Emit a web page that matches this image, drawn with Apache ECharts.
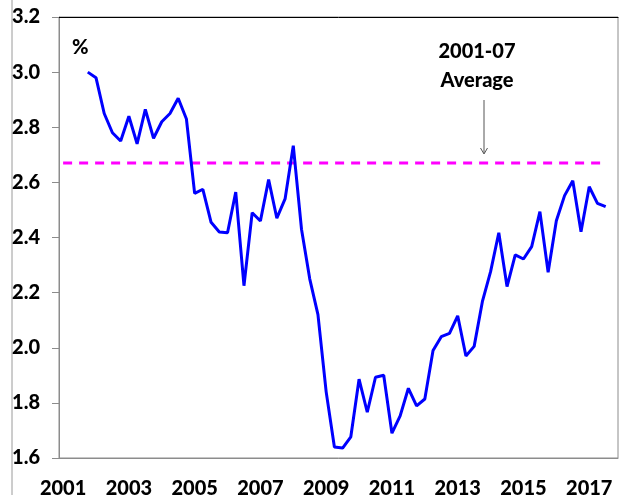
<!DOCTYPE html>
<html>
<head>
<meta charset="utf-8">
<script src="https://cdn.jsdelivr.net/npm/echarts@6/dist/echarts.min.js"></script>
<style>
  html, body { margin: 0; padding: 0; background: #fff; }
  #chart { width: 629px; height: 495px; }
</style>
</head>
<body>
<div id="chart"></div>
<script>
// quarterly axis 2001Q1 .. 2017Q4, labels every second year
const years = [2001, 2002, 2003, 2004, 2005, 2006, 2007, 2008, 2009,
  2010, 2011, 2012, 2013, 2014, 2015, 2016, 2017];
const quarters = ["Q1", "Q2", "Q3", "Q4"];

// series runs 2001Q4 .. 2017Q3
const rateStart = "2001 Q4";
const rateValues = [
  3.00, 2.98, 2.85, 2.78, 2.75, 2.84, 2.74, 2.865, 2.76, 2.82, 2.85, 2.905, 2.83,
  2.56, 2.575, 2.455, 2.42, 2.417, 2.565, 2.225, 2.49, 2.46, 2.61, 2.47, 2.54, 2.733,
  2.43, 2.25, 2.12, 1.84, 1.64, 1.636, 1.677, 1.886, 1.766, 1.893, 1.90, 1.69, 1.753,
  1.853, 1.789, 1.814, 1.99, 2.04, 2.052, 2.116, 1.97, 2.005, 2.167, 2.276, 2.417,
  2.222, 2.337, 2.322, 2.367, 2.494, 2.274, 2.461, 2.552, 2.606, 2.421, 2.584, 2.524, 2.512,
];
const average = 2.67;
const yTicks = { min: 1.6, max: 3.2, step: 0.2 };

const categories = years.flatMap((y) => quarters.map((q) => `${y} ${q}`));
const startIdx = categories.indexOf(rateStart);
const lastIdx = startIdx + rateValues.length - 1;
const rateData = categories.map((c, i) =>
  i >= startIdx && i <= lastIdx ? rateValues[i - startIdx] : null);
const avgData = categories.map((c, i) => (i <= lastIdx ? average : null));

const font = "Lato";
const chart = echarts.init(document.getElementById("chart"));

chart.setOption({
  animation: false,
  backgroundColor: "#fff",
  grid: {
    left: 59, right: 11, top: 17, bottom: 37,
    outerBoundsMode: "none",
    containLabel: false,
    show: true, borderColor: "#8c8c8c", borderWidth: 1,
  },
  xAxis: [
    {
      type: "category",
      data: categories,
      boundaryGap: true,
      axisLine: { lineStyle: { color: "#8c8c8c", width: 1 } },
      axisTick: { show: false },
      axisLabel: {
        interval: 7,
        margin: 21,
        formatter: (v) => v.slice(0, 4),
        color: "#000",
        fontFamily: font,
        fontWeight: 900,
        fontSize: 20,
      },
      splitLine: { show: false },
    },
    {
      type: "category",
      data: categories,
      position: "top",
      axisLine: { lineStyle: { color: "#000", width: 1 } },
      axisTick: { show: false },
      axisLabel: { show: false },
    },
  ],
  yAxis: {
    type: "value",
    min: yTicks.min,
    max: yTicks.max,
    interval: yTicks.step,
    axisLine: { show: true, lineStyle: { color: "#8c8c8c" } },
    axisTick: { show: true, length: 7, lineStyle: { color: "#8c8c8c" } },
    splitLine: { show: false },
    axisLabel: {
      margin: 19,
      formatter: (v) => v.toFixed(1),
      color: "#000",
      fontFamily: font,
      fontWeight: 900,
      fontSize: 20,
    },
  },
  series: [
    {
      name: "Average",
      type: "line",
      data: avgData,
      showSymbol: false,
      lineStyle: { color: "#ff00ff", width: 3, type: [9, 7] },
      z: 1,
    },
    {
      name: "Rate",
      type: "line",
      data: rateData,
      showSymbol: false,
      connectNulls: false,
      lineStyle: { color: "#0000ff", width: 3 },
      z: 2,
    },
  ],
  graphic: [
    { type: "line", shape: { x1: 12, y1: 0, x2: 12, y2: 495 }, style: { stroke: "#9a9a9a", lineWidth: 1 } },
    { type: "text", left: 72, top: 38, style: { text: "%", fill: "#000", font: `900 20px ${font}` } },
    {
      type: "text", x: 477, y: 37,
      style: { text: "2001-07\nAverage", fill: "#000", font: `900 20px ${font}`,
        align: "center", lineHeight: 29 },
    },
    { type: "line", shape: { x1: 484, y1: 100, x2: 484, y2: 153 }, style: { stroke: "#555", lineWidth: 1 } },
    { type: "polyline", shape: { points: [[480.5, 148], [484, 154], [487.5, 148]] }, style: { stroke: "#555", lineWidth: 1, fill: null } },
  ],
});
</script>
</body>
</html>
